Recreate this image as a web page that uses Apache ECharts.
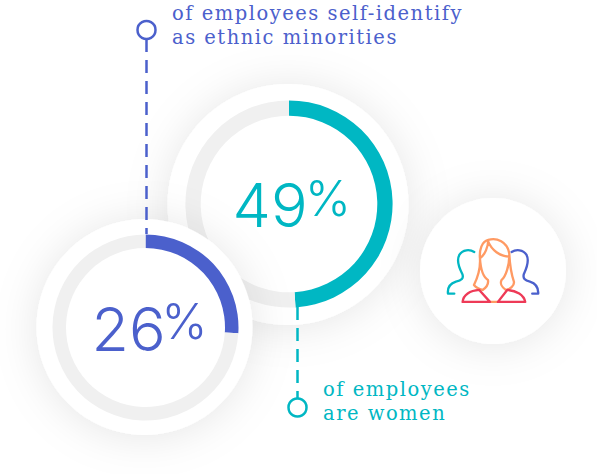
<!DOCTYPE html>
<html><head><meta charset="utf-8">
<style>html,body{margin:0;padding:0;background:#fff}#c{width:597px;height:474px}
text[style*="Serif"]{letter-spacing:1.5px}
</style>
<script src="https://cdn.jsdelivr.net/npm/echarts@6/dist/echarts.min.js"></script>
</head><body><div id="c"></div>
<script>
const values = [49, 26];
const maxValue = 100;
const captions = [['of employees', 'are women'], ['of employees self-identify', 'as ethnic minorities']];
const BLUE = '#4b60cc', TEAL = '#00b7c3', GREY = '#f0f0f0', ORANGE = '#ff9a63', RED = '#ee3a57';

const chart = echarts.init(document.getElementById('c'), null, {renderer: 'svg'});

function disk(center, r, z) {
  return {type: 'pie', z, center, radius: [0, r], silent: true, animation: false, label: {show: false}, labelLine: {show: false},
    itemStyle: {color: '#fff', shadowBlur: 44, shadowColor: 'rgba(0,0,0,0.10)', shadowOffsetY: 2},
    data: [{value: 1}], emphasis: {disabled: true}};
}
function ring(center, radius, value, color, z, offset, numWidth) {
  return {type: 'pie', z, center, radius, startAngle: 90, clockwise: true, silent: true, animation: false, labelLine: {show: false},
    emphasis: {disabled: true},
    data: [
      {value, itemStyle: {color}, label: {show: true, position: 'center', offset, formatter: '{n|{c}}{p|%}',
        rich: {
          n: {fontFamily: 'Inter', fontWeight: 300, fontSize: 61, color, width: numWidth},
          p: {fontFamily: 'Inter', fontWeight: 300, fontSize: 49, color, verticalAlign: 'top', padding: [0, 0, 14, 0]}
        }}},
      {value: maxValue - value, itemStyle: {color: GREY}, label: {show: false}}
    ]};
}
const iconShapes = {
  iconTeal: 'M163 156C150 148 128 148 118 165C110 180 118 205 127 222C132 235 125 242 108 245C92 250 82 262 84 281L103 281',
  iconBlue: 'M275 156C288 148 310 148 320 165C328 180 320 205 312 222C308 235 315 242 330 245C346 250 356 262 355 281L337 281',
  iconHair: 'M205 120C230 112 262 125 268 160C270 200 275 225 282 245C284 258 270 268 258 270C245 262 240 250 245 240C258 230 268 195 268 170M205 120C185 125 178 150 180 175C182 205 172 235 162 255C170 265 180 268 188 270C200 262 206 250 204 240C190 232 182 205 180 175M205 120C205 140 195 165 180 175M205 125C215 150 240 170 268 170M210 306L234 306',
  iconBody: 'M128 306C130 285 150 272 178 270L210 306ZM234 306L262 270C290 272 312 285 316 306Z'
};
Object.keys(iconShapes).forEach(k => echarts.graphic.registerShape(k, echarts.graphic.extendPath(iconShapes[k], {})));
const s = 1 / 3;
function iconPath(type, stroke) {
  return {type, x: 420, y: 200, scaleX: s, scaleY: s, z: 20, silent: true,
    style: {fill: 'none', stroke, lineWidth: 7, lineCap: 'round', lineJoin: 'round'}};
}
function txt(x, y, t, color) {
  return {type: 'text', x, y, z: 20, silent: true,
    style: {text: t, fill: color, fontFamily: 'DejaVu Serif', fontSize: 19.5, verticalAlign: 'bottom'}};
}
function line(x, y1, y2, color, dash) {
  return {type: 'line', z: 20, silent: true, shape: {x1: x, y1, x2: x, y2},
    style: {stroke: color, lineWidth: 2.5, lineDash: dash}};
}
function circ(x, y, color) {
  return {type: 'circle', z: 21, silent: true, shape: {cx: x, cy: y, r: 9},
    style: {fill: '#fff', stroke: color, lineWidth: 2.5}};
}

chart.setOption({
  backgroundColor: '#fff',
  animation: false,
  series: [
    disk([288, 204.5], 120.5, 1),
    ring([289, 204], [88.3, 103.6], values[0], TEAL, 2, [4, 1], 70),
    disk([144.5, 327], 108, 3),
    ring([145.5, 327.5], [79.5, 93], values[1], BLUE, 4, [6, 1], 66),
    disk([493, 271], 73, 5)
  ],
  graphic: {elements: [
    line(146.5, 39, 234, BLUE, [13, 8]),
    circ(146.5, 30, BLUE),
    line(297.5, 307, 398, TEAL, [13, 8]),
    circ(297.5, 407.5, TEAL),
    txt(172, 23, captions[1][0], BLUE),
    txt(172, 47, captions[1][1], BLUE),
    txt(323, 399, captions[0][0], TEAL),
    txt(323, 423, captions[0][1], TEAL),
    iconPath('iconTeal', TEAL),
    iconPath('iconBlue', BLUE),
    iconPath('iconHair', ORANGE),
    iconPath('iconBody', RED)
  ]}
});
</script></body></html>
